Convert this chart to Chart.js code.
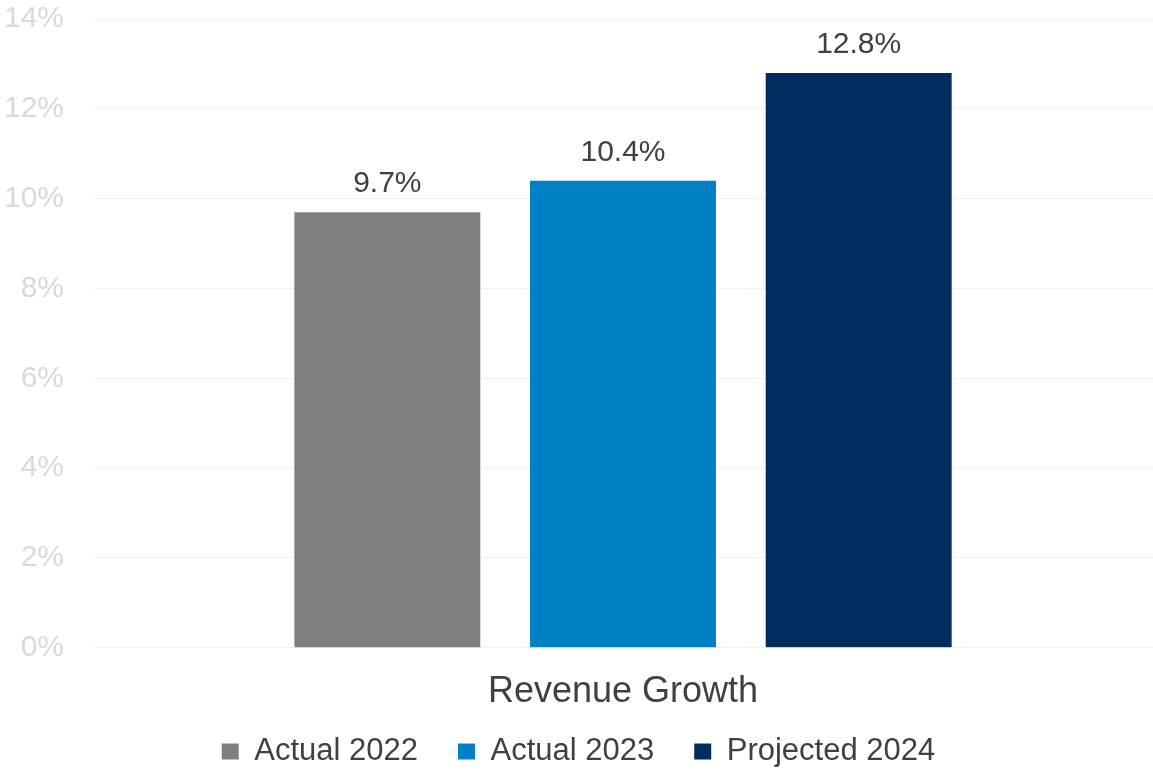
<!DOCTYPE html>
<html lang="en">
<head>
    <meta charset="UTF-8">
    <title>Revenue Growth</title>
    <script src="https://cdn.jsdelivr.net/npm/chart.js"></script>
    <style>
        html, body {
            margin: 0;
            padding: 0;
            background: #ffffff;
        }

        /* chart fills the whole window */
        #wrap {
            width: 1153px;
            height: 771px;
            position: relative;
        }
    </style>
</head>
<body>

<div id="wrap">
    <canvas id="growthChart"></canvas>
</div>

<script>
    // data
    const categories = ['Revenue Growth'];
    const seriesNames = ['Actual 2022', 'Actual 2023', 'Projected 2024'];
    const seriesValues = [[9.7], [10.4], [12.8]];
    const seriesColors = ['#7f7f7f', '#0081c6', '#002c5f'];
    const yTicks = [0, 2, 4, 6, 8, 10, 12, 14];

    Chart.defaults.font.family = '"Liberation Sans", Arial, sans-serif';

    // value labels above each bar
    const valueLabels = {
        id: 'valueLabels',
        afterDatasetsDraw(chart) {
            const ctx = chart.ctx;
            ctx.save();
            ctx.font = '30px "Liberation Sans", Arial, sans-serif';
            ctx.fillStyle = '#404040';
            ctx.textAlign = 'center';
            ctx.textBaseline = 'alphabetic';
            chart.data.datasets.forEach((ds, i) => {
                const meta = chart.getDatasetMeta(i);
                meta.data.forEach((bar, j) => {
                    ctx.fillText(ds.data[j].toFixed(1) + '%', bar.x, bar.y - 20);
                });
            });
            ctx.restore();
        }
    };

    const ctx = document.getElementById('growthChart').getContext('2d');
    const growthChart = new Chart(ctx, {
        type: 'bar',
        data: {
            labels: categories,
            datasets: seriesNames.map((name, i) => ({
                label: name,
                data: seriesValues[i],
                backgroundColor: seriesColors[i],
                categoryPercentage: 0.667,
                barPercentage: 0.789
            }))
        },
        options: {
            responsive: true,
            maintainAspectRatio: false,
            animation: false,
            layout: {
                padding: { left: 4, right: 0, top: 0, bottom: -6 }
            },
            scales: {
                x: {
                    grid: { display: false, drawTicks: false },
                    border: { display: false },
                    ticks: { display: false },
                    // the single category name sits under the bars, like the reference
                    title: {
                        display: true,
                        text: categories[0],
                        color: '#404040',
                        font: { size: 36 },
                        padding: { top: 23, bottom: -18 }
                    },
                    afterFit(scale) {
                        scale.paddingLeft = 0;
                        scale.paddingRight = 0;
                    }
                },
                y: {
                    min: 0,
                    max: 14,
                    afterBuildTicks(scale) {
                        scale.ticks = yTicks.map(v => ({ value: v }));
                    },
                    afterFit(scale) {
                        // labels end ~29px left of the plot, plot starts at x=93
                        scale.width = 89;
                        scale.paddingTop = 19;
                        scale.paddingBottom = 0;
                    },
                    grid: {
                        color: '#f0f0f0',
                        lineWidth: 1,
                        drawTicks: false
                    },
                    border: { display: false },
                    ticks: {
                        color: '#d9d9d9',
                        font: { size: 30 },
                        padding: 29,
                        callback: v => v + '%'
                    }
                }
            },
            plugins: {
                legend: {
                    position: 'bottom',
                    labels: {
                        color: '#404040',
                        font: { size: 31 },
                        boxWidth: 17,
                        boxHeight: 16,
                        padding: 40
                    }
                },
                tooltip: { enabled: false }
            }
        },
        plugins: [valueLabels]
    });
</script>

</body>
</html>
